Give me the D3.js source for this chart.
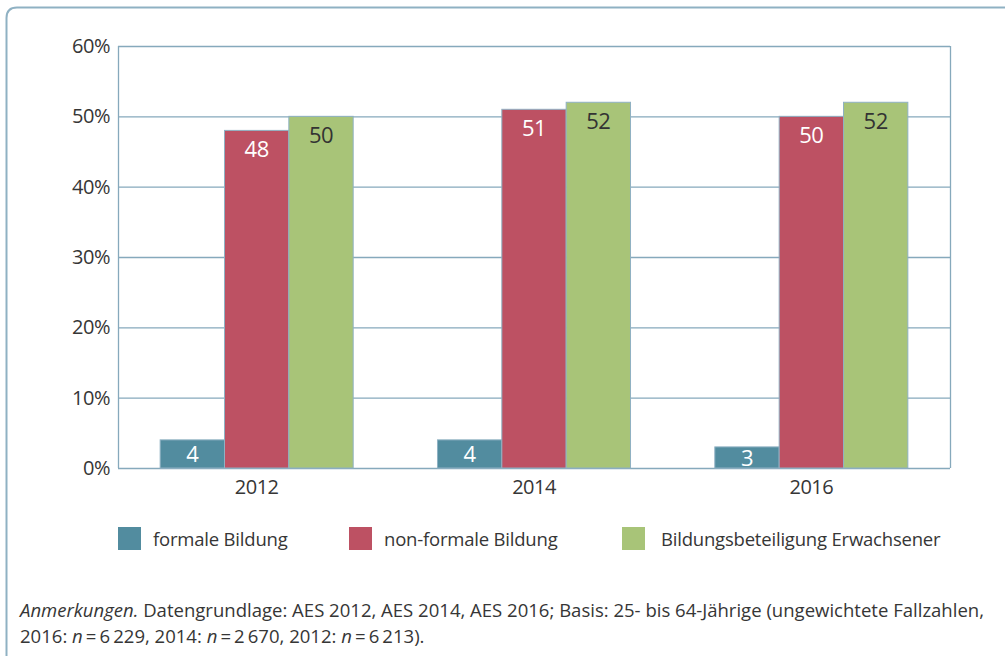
<!DOCTYPE html>
<html><head><meta charset="utf-8">
<script src="https://cdn.jsdelivr.net/npm/d3@7"></script>
<style>
html,body{margin:0;padding:0;background:#fff;}
svg{display:block;font-family:"Open Sans",sans-serif;}
</style></head>
<body><svg id="c" width="1006" height="656"></svg>
<script>
const years = ["2012","2014","2016"];
const seriesNames = ["formale Bildung","non-formale Bildung","Bildungsbeteiligung Erwachsener"];
const formale = [4,4,3];
const nonFormale = [48,51,50];
const beteiligung = [50,52,52];
const yTicks = [0,10,20,30,40,50,60];
const colors = ["#528c9f","#bd5163","#a8c478"];
const labelColors = ["#ffffff","#ffffff","#333333"];

const series = [formale, nonFormale, beteiligung];
const svg = d3.select("#c");
const ink = "#363636";
const lineCol = "#86a9bc";

// outer frame
svg.append("path")
  .attr("d","M6.5,656 L6.5,18 Q6.5,7.5 17,7.5 L1005,7.5")
  .attr("fill","none").attr("stroke","#8fb1c3").attr("stroke-width",2);

const L=118, R=950, T=46, B=468;
const x = d3.scaleBand().domain(years).range([L,R]).paddingInner(0.304).paddingOuter(0.152);
const xs = d3.scaleBand().domain(d3.range(3)).range([0,x.bandwidth()]);
const y = d3.scaleLinear().domain([0,60]).range([B,T]);

// gridlines
svg.append("g").selectAll("line").data(yTicks).join("line")
  .attr("x1",L).attr("x2",R).attr("y1",d=>y(d)+0.5).attr("y2",d=>y(d)+0.5)
  .attr("stroke",lineCol).attr("stroke-width",1.3);
svg.append("line").attr("x1",L+0.5).attr("x2",L+0.5).attr("y1",T).attr("y2",B).attr("stroke",lineCol).attr("stroke-width",1.3);
svg.append("line").attr("x1",R+0.5).attr("x2",R+0.5).attr("y1",T).attr("y2",B).attr("stroke",lineCol).attr("stroke-width",1.3);

// y axis labels
svg.append("g").selectAll("text").data(yTicks).join("text")
  .attr("x",L-8).attr("y",d=>y(d)+7).attr("text-anchor","end")
  .attr("font-size",20).attr("letter-spacing",-0.5).attr("fill",ink).text(d=>d+"%");

// bars
series.forEach((vals,si)=>{
  const g = svg.append("g");
  g.selectAll("rect").data(vals).join("rect")
    .attr("x",(d,i)=>x(years[i])+xs(si)).attr("width",xs.bandwidth())
    .attr("y",d=>y(d)).attr("height",d=>B-y(d))
    .attr("fill",colors[si]).attr("stroke","#8fb1c3").attr("stroke-width",1);
  g.selectAll("text").data(vals).join("text")
    .attr("x",(d,i)=>x(years[i])+xs(si)+xs.bandwidth()/2)
    .attr("y",d=>y(d)+Math.min(27,(B-y(d))/2+8.5)).attr("text-anchor","middle")
    .attr("font-size",22).attr("letter-spacing",-0.5).attr("fill",labelColors[si]).text(d=>d);
});

// x labels
svg.append("g").selectAll("text").data(years).join("text")
  .attr("x",d=>x(d)+x.bandwidth()/2).attr("y",494).attr("text-anchor","middle")
  .attr("font-size",20).attr("letter-spacing",-0.5).attr("fill",ink).text(d=>d);

// legend
const legX=[118,349,622], legTx=[153,384,661];
seriesNames.forEach((n,i)=>{
  svg.append("rect").attr("x",legX[i]).attr("y",527).attr("width",23).attr("height",23).attr("fill",colors[i]);
  svg.append("text").attr("x",legTx[i]).attr("y",546).attr("font-size",18.5).attr("letter-spacing",-0.2).attr("fill",ink).text(n);
});

// footnote
const f1 = svg.append("text").attr("x",20).attr("y",617).attr("font-size",18.55).attr("fill",ink);
f1.append("tspan").attr("font-style","italic").text("Anmerkungen.");
f1.append("tspan").text(" Datengrundlage: AES 2012, AES 2014, AES 2016; Basis: 25- bis 64-Jährige (ungewichtete Fallzahlen,");
const f2 = svg.append("text").attr("x",20).attr("y",643).attr("font-size",18.55).attr("fill",ink);
f2.append("tspan").text("2016: ");
f2.append("tspan").attr("font-style","italic").text("n");
f2.append("tspan").text("\u2009=\u20096\u2009229, 2014: ");
f2.append("tspan").attr("font-style","italic").text("n");
f2.append("tspan").text("\u2009=\u20092\u2009670, 2012: ");
f2.append("tspan").attr("font-style","italic").text("n");
f2.append("tspan").text("\u2009=\u20096\u2009213).");
</script></body></html>
